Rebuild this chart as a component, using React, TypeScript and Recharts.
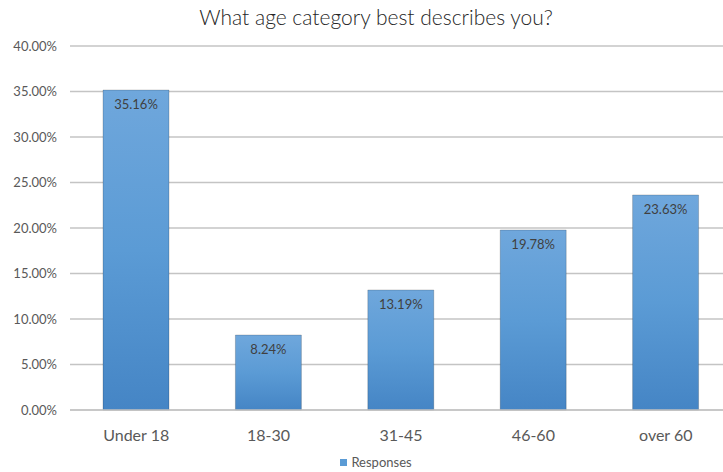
import { Bar, BarChart, CartesianGrid, LabelList, XAxis, YAxis } from "recharts";

const categories = ["Under 18", "18-30", "31-45", "46-60", "over 60"];
const responses = [35.16, 8.24, 13.19, 19.78, 23.63];
const yTicks = [0, 5, 10, 15, 20, 25, 30, 35, 40];

const data = categories.map((name, i) => ({ name, responses: responses[i] }));

const FONT = "Lato, 'Open Sans', sans-serif";
const pct = (v: number) => `${Number(v).toFixed(2)}%`;

export default function App() {
  return (
    <div
      style={{
        position: "absolute",
        top: 0,
        left: 0,
        width: 723,
        height: 472,
        overflow: "hidden",
        background: "#fff",
      }}
    >
      <div
        style={{
          position: "absolute",
          top: 4,
          left: 0,
          width: 752,
          textAlign: "center",
          fontFamily: FONT,
          fontWeight: 300,
          fontSize: 21,
          color: "#262626",
        }}
      >
        What age category best describes you?
      </div>
      <BarChart
        width={752}
        height={472}
        data={data}
        margin={{ top: 46, right: 20, left: 0, bottom: 0 }}
        barSize={66}
      >
        <defs>
          <linearGradient id="barFill" x1="0" y1="0" x2="0" y2="1">
            <stop offset="0%" stopColor="#6fa7dc" />
            <stop offset="50%" stopColor="#5b9bd5" />
            <stop offset="100%" stopColor="#4585c5" />
          </linearGradient>
        </defs>
        <CartesianGrid vertical={false} stroke="#c4c4c4" strokeWidth={1.5} />
        <XAxis
          dataKey="name"
          axisLine={{ stroke: "#c4c4c4", strokeWidth: 1.5 }}
          tickLine={false}
          tickSize={0}
          tickMargin={20}
          height={62}
          tick={{ fill: "#595959", fontSize: 16, fontFamily: FONT }}
        />
        <YAxis
          domain={[0, 40]}
          ticks={yTicks}
          tickFormatter={pct}
          axisLine={false}
          tickLine={false}
          tickSize={0}
          tickMargin={13}
          width={70}
          tick={{ fill: "#595959", fontSize: 13, fontFamily: FONT }}
        />
        <Bar
          dataKey="responses"
          name="Responses"
          fill="url(#barFill)"
          stroke="rgba(0,0,0,0.18)"
          strokeWidth={1}
          isAnimationActive={false}
        >
          <LabelList
            dataKey="responses"
            position="insideTop"
            offset={10}
            formatter={(v: any) => pct(v)}
            fill="#404040"
            fontSize={13}
            fontFamily={FONT}
          />
        </Bar>
      </BarChart>
      <div
        style={{
          position: "absolute",
          top: 454,
          left: 0,
          width: 752,
          display: "flex",
          justifyContent: "center",
          alignItems: "center",
          fontFamily: FONT,
          fontSize: 13,
          color: "#595959",
        }}
      >
        <span style={{ width: 7, height: 7, background: "#5b9bd5", marginRight: 4, display: "inline-block" }} />
        Responses
      </div>
    </div>
  );
}
